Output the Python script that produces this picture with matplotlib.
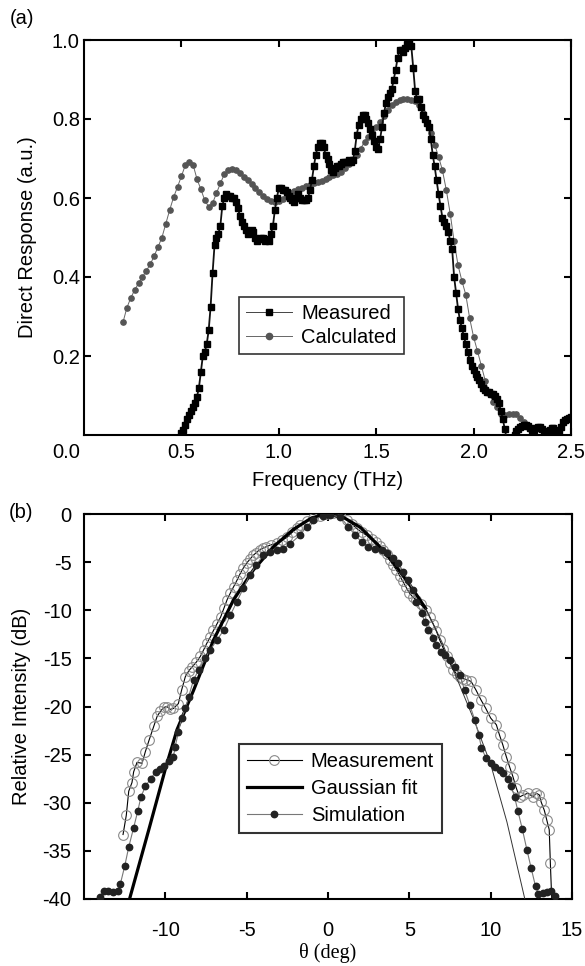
import numpy as np
import matplotlib
matplotlib.use("Agg")
import matplotlib.pyplot as plt
from matplotlib.lines import Line2D

plt.rcParams['font.family'] = ['Liberation Sans', 'DejaVu Sans']

# ---------------- Panel (a) data ----------------
meas_freq = np.round(np.arange(0.50, 2.505, 0.01), 2)
meas_resp = [
    0.005, 0.012, 0.025, 0.04, 0.05, 0.06, 0.07, 0.08, 0.097, 0.12,
    0.16, 0.20, 0.21, 0.23, 0.265, 0.325, 0.41, 0.48, 0.50, 0.51,
    0.53, 0.58, 0.60, 0.61, 0.605, 0.605, 0.60, 0.60, 0.59, 0.575,
    0.555, 0.54, 0.53, 0.52, 0.51, 0.515, 0.52, 0.515, 0.50, 0.49,
    0.495, 0.50, 0.50, 0.49, 0.495, 0.49, 0.51, 0.53, 0.57, 0.60,
    0.625, 0.625, 0.62, 0.62, 0.615, 0.605, 0.60, 0.595, 0.59, 0.60,
    0.61, 0.60, 0.595, 0.595, 0.595, 0.60, 0.62, 0.645, 0.68, 0.71,
    0.73, 0.74, 0.74, 0.73, 0.71, 0.70, 0.685, 0.67, 0.665, 0.675,
    0.68, 0.68, 0.685, 0.69, 0.69, 0.69, 0.695, 0.69, 0.695, 0.72,
    0.76, 0.785, 0.80, 0.81, 0.81, 0.80, 0.79, 0.775, 0.76, 0.745,
    0.73, 0.725, 0.75, 0.78, 0.815, 0.84, 0.855, 0.865, 0.875, 0.90,
    0.925, 0.955, 0.975, 0.975, 0.97, 0.98, 0.99, 1.0, 0.985, 0.93,
    0.87, 0.85, 0.85, 0.83, 0.81, 0.80, 0.79, 0.78, 0.75, 0.71,
    0.68, 0.645, 0.61, 0.58, 0.55, 0.54, 0.53, 0.515, 0.49, 0.47,
    0.40, 0.36, 0.32, 0.29, 0.27, 0.25, 0.23, 0.21, 0.19, 0.175,
    0.165, 0.155, 0.147, 0.14, 0.13, 0.12, 0.115, 0.11, 0.108, 0.105,
    0.105, 0.10, 0.09, 0.08, 0.06, 0.04, 0.015, -0.01, -0.03, -0.03,
    -0.02, 0.0, 0.01, 0.015, 0.02, 0.022, 0.025, 0.025, 0.022, 0.018,
    0.012, 0.012, 0.018, 0.02, 0.02, 0.015, 0.01, 0.008, 0.008, 0.012,
    0.018, 0.018, 0.012, 0.008, 0.01, 0.02, 0.033, 0.038, 0.04, 0.043,
    0.045,
]

calc_freq = np.round(np.arange(0.20, 2.305, 0.02), 2)
calc_resp = [
    0.285, 0.322, 0.347, 0.367, 0.384, 0.400, 0.416, 0.432, 0.453, 0.476,
    0.500, 0.535, 0.570, 0.602, 0.628, 0.655, 0.683, 0.692, 0.684, 0.648,
    0.622, 0.594, 0.578, 0.587, 0.612, 0.637, 0.660, 0.671, 0.673, 0.670,
    0.663, 0.654, 0.645, 0.635, 0.625, 0.615, 0.606, 0.598, 0.592, 0.590,
    0.592, 0.598, 0.605, 0.612, 0.618, 0.622, 0.626, 0.630, 0.634, 0.638,
    0.641, 0.644, 0.648, 0.652, 0.657, 0.662, 0.667, 0.675, 0.685, 0.697,
    0.710, 0.725, 0.742, 0.755, 0.768, 0.780, 0.792, 0.808, 0.822, 0.835,
    0.843, 0.848, 0.850, 0.851, 0.849, 0.845, 0.835, 0.815, 0.790, 0.765,
    0.735, 0.705, 0.670, 0.620, 0.560, 0.490, 0.430, 0.390, 0.355, 0.295,
    0.248, 0.212, 0.175, 0.137, 0.107, 0.084, 0.070, 0.054, 0.050, 0.052,
    0.054, 0.053, 0.044, 0.032, 0.020, 0.004,
]

# ---------------- Panel (b) data ----------------
meas_theta = [
    -12.6, -12.4, -12.25, -12.05, -11.95, -11.74, -11.43, -11.23, -11.0, -10.7,
    -10.5, -10.3, -10.1, -9.9, -9.7, -9.5, -9.2, -9.0, -8.77, -8.56,
    -8.36, -8.1, -7.85, -7.64, -7.44, -7.24, -7.04, -6.82, -6.6, -6.4,
    -6.2, -6.0, -5.8, -5.6, -5.4, -5.2, -5.0, -4.8, -4.6, -4.4,
    -4.2, -4.0, -3.8, -3.5, -3.15, -2.8, -2.5, -2.2, -1.9, -1.7,
    -1.3, -0.9, -0.5, -0.1, 0.3, 0.74, 1.15, 1.45, 1.76, 2.07,
    2.37, 2.68, 2.98, 3.2, 3.4, 3.6, 3.8, 4.0, 4.2, 4.4,
    4.6, 4.8, 5.0, 5.2, 5.4, 5.7, 6.05, 6.25, 6.46, 6.67,
    6.87, 7.1, 7.3, 7.5, 7.7, 7.9, 8.1, 8.3, 8.5, 8.8,
    9.1, 9.4, 9.7, 10.0, 10.35, 10.55, 10.75, 10.96, 11.17, 11.37,
    11.58, 11.78, 12.0, 12.3, 12.6, 12.8, 13.0, 13.1, 13.3, 13.45,
    13.6, 13.67, 13.8,
]
meas_db = [
    -33.3, -31.3, -28.8, -27.9, -26.8, -25.8, -25.9, -24.7, -23.5, -22.0,
    -21.0, -20.5, -20.1, -20.0, -20.3, -20.2, -19.7, -18.3, -16.9, -16.3,
    -15.9, -15.4, -14.8, -14.1, -13.4, -12.8, -12.1, -11.4, -10.7, -9.8,
    -8.9, -8.2, -7.55, -6.9, -6.2, -5.6, -5.1, -4.7, -4.3, -4.0,
    -3.7, -3.55, -3.4, -3.2, -3.05, -2.7, -2.4, -1.9, -1.5, -1.1,
    -0.75, -0.45, -0.2, 0.0, 0.1, 0.1, -0.6, -1.0, -1.5, -1.9,
    -2.2, -2.6, -2.9, -3.3, -3.7, -4.2, -4.8, -5.3, -5.8, -6.4,
    -7.0, -7.6, -8.2, -8.6, -8.9, -9.4, -10.0, -10.7, -11.4, -12.2,
    -13.1, -14.0, -14.8, -15.5, -16.2, -16.6, -16.9, -17.1, -17.2, -17.4,
    -18.3, -19.3, -20.2, -21.2, -21.9, -23.0, -24.0, -25.2, -26.3, -27.3,
    -28.5, -29.4, -29.2, -29.0, -29.4, -29.0, -29.2, -29.9, -30.8, -31.8,
    -32.8, -36.3, -42.0,
]

gauss_theta = [-12.2, -11.0, -10.0, -9.28, -8.26, -7.04, -5.8, -4.58, -3.35, -2.13,
               -1.0, 0.0, 1.0, 2.0, 3.0, 4.0, 5.0, 6.0, 7.0, 8.0,
               9.0, 10.0, 11.0, 12.1]
gauss_db = [-40.0, -32.7, -26.5, -22.4, -18.3, -13.1, -8.9, -5.8, -3.4, -1.6,
            -0.4, 0.0, -0.4, -1.4, -3.1, -5.0, -7.3, -9.8, -13.3, -17.4,
            -21.5, -26.0, -32.0, -40.0]

sim_theta = [
    -14.0, -13.8, -13.5, -13.2, -12.9, -12.76, -12.5, -12.25, -11.95, -11.7,
    -11.5, -11.23, -10.9, -10.6, -10.35, -10.1, -9.8, -9.5, -9.4, -9.2,
    -9.0, -8.77, -8.57, -8.26, -7.95, -7.55, -7.24, -6.83, -6.42, -6.0,
    -5.6, -5.2, -4.8, -4.4, -4.0, -3.56, -3.15, -2.74, -2.33, -1.72,
    -1.31, -0.9, -0.29, 0.12, 0.74, 1.25, 1.66, 2.07, 2.48, 2.89,
    3.3, 3.6, 4.0, 4.32, 4.62, 4.93, 5.24, 5.44, 5.75, 5.95,
    6.16, 6.46, 6.67, 6.97, 7.18, 7.48, 7.79, 8.1, 8.4, 8.71,
    9.02, 9.28, 9.43, 9.73, 10.04, 10.25, 10.55, 10.76, 11.07, 11.27,
    11.47, 11.68, 11.94, 12.23, 12.49, 12.76, 12.94, 13.2, 13.45, 13.72,
    13.93,
]
sim_db = [
    -39.8, -39.2, -39.2, -39.3, -39.2, -38.4, -36.6, -34.6, -32.6, -30.9,
    -29.4, -28.3, -27.5, -26.8, -26.5, -26.2, -25.7, -25.2, -24.2, -22.7,
    -21.2, -20.2, -19.0, -17.2, -16.2, -15.0, -14.1, -13.1, -12.1, -10.5,
    -9.1, -7.7, -6.3, -5.3, -4.3, -3.9, -3.7, -3.6, -3.1, -2.2,
    -1.3, -0.6, -0.2, -0.1, -0.3, -1.3, -2.2, -2.9, -3.4, -3.6,
    -3.7, -4.1, -4.6, -5.1, -6.0, -6.9, -7.9, -9.1, -10.3, -11.2,
    -12.0, -12.9, -13.6, -14.3, -14.6, -15.2, -15.9, -16.7, -18.3, -19.8,
    -21.4, -23.0, -24.3, -25.4, -25.9, -26.3, -26.6, -26.9, -27.5, -28.3,
    -29.4, -30.9, -32.7, -34.9, -36.8, -38.7, -39.5, -39.4, -39.3, -39.2,
    -39.7,
]

freq_ticks = [0.5, 1.0, 1.5, 2.0, 2.5]
resp_ticks = [0.2, 0.4, 0.6, 0.8, 1.0]
theta_ticks = [-10, -5, 0, 5, 10, 15]
db_ticks = [0, -5, -10, -15, -20, -25, -30, -35, -40]

FS = 14.5
W, H = 585, 966
fig = plt.figure(figsize=(W / 100, H / 100), dpi=100)


def style_axes(ax):
    for s in ax.spines.values():
        s.set_linewidth(1.5)
    ax.tick_params(direction='in', length=5, width=1.5, top=True, right=True,
                   labelsize=FS)


# ---------------- Panel (a) ----------------
ax1 = fig.add_axes([84 / W, 1 - 435 / H, (571 - 84) / W, (435 - 40) / H])
ax1.plot(meas_freq, meas_resp, color='#111111', lw=1.3, marker='s', ms=4.0,
         mfc='black', mec='black', zorder=3)
ax1.plot(calc_freq, calc_resp, color='#666666', lw=0.7, marker='o', ms=3.8,
         mfc='#555555', mec='#555555', zorder=2)
ax1.set_xlim(0, 2.5)
ax1.set_ylim(0, 1.0)
ax1.set_xticks(freq_ticks)
ax1.set_xticklabels(['0.5', '1.0', '1.5', '2.0', '2.5'])
ax1.set_yticks(resp_ticks)
ax1.set_yticklabels(['0.2', '0.4', '0.6', '0.8', '1.0'])
style_axes(ax1)
ax1.tick_params(axis='y', pad=3)
ax1.tick_params(axis='x', pad=6)
ax1.set_xlabel('Frequency (THz)', fontsize=FS, labelpad=6)
ax1.set_ylabel('Direct Response (a.u.)', fontsize=FS, labelpad=11)
fig.text(80 / W, 1 - 443 / H, '0.0', ha='right', va='top', fontsize=FS)
ha1 = Line2D([], [], color='#444444', lw=0.7, marker='s', ms=4.5,
             mfc='black', mec='black')
ha2 = Line2D([], [], color='#666666', lw=0.7, marker='o', ms=4.5,
             mfc='#555555', mec='#555555')
leg1 = ax1.legend([ha1, ha2], ['Measured', 'Calculated'],
                  loc='upper left', bbox_to_anchor=(0.318, 0.349), fontsize=FS,
                  frameon=True, fancybox=False, handlelength=2.3,
                  handletextpad=0.45, labelspacing=0.25, borderpad=0.35,
                  borderaxespad=0.0)
leg1.get_frame().set_edgecolor('black')
leg1.get_frame().set_linewidth(1.2)
fig.text(22 / W, 1 - 18 / H, '(a)', ha='center', va='center', fontsize=FS)

# ---------------- Panel (b) ----------------
ax2 = fig.add_axes([84 / W, 1 - 899 / H, (572 - 84) / W, (899 - 514) / H])
ax2.plot(meas_theta, meas_db, color='black', lw=0.8, marker='o', ms=7,
         mfc='none', mec='#8a8a8a', mew=0.8, zorder=3)
g_theta = np.array(gauss_theta)
g_db = np.array(gauss_db)
left = g_theta <= 6.0
right = g_theta >= 6.0
ax2.plot(g_theta[left], g_db[left], color='black', lw=2.3, zorder=4)
ax2.plot(g_theta[right], g_db[right], color='#333333', lw=0.7, zorder=4)
ax2.plot(sim_theta, sim_db, color='#777777', lw=0.8, marker='o', ms=4.6,
         mfc='#222222', mec='#222222', zorder=5)
ax2.set_xlim(-15, 15)
ax2.set_ylim(-40, 0)
ax2.set_xticks(theta_ticks)
ax2.set_xticklabels([str(t) for t in theta_ticks])
ax2.set_yticks(db_ticks)
ax2.set_yticklabels([str(t) for t in db_ticks])
style_axes(ax2)
ax2.tick_params(axis='y', pad=9)
ax2.tick_params(axis='x', pad=16)
ax2.set_xlabel('\u03b8 (deg)', fontsize=FS, family=['Liberation Serif', 'DejaVu Serif'],
               labelpad=2)
ax2.set_ylabel('Relative Intensity (dB)', fontsize=FS, labelpad=8)
h1 = Line2D([], [], color='black', lw=0.8, marker='o', ms=7, mfc='none',
            mec='#8a8a8a', mew=0.8)
h2 = Line2D([], [], color='black', lw=2.3)
h3 = Line2D([], [], color='#777777', lw=0.8, marker='o', ms=4.6,
            mfc='#222222', mec='#222222')
leg2 = ax2.legend([h1, h2, h3], ['Measurement', 'Gaussian fit', 'Simulation'],
                  loc='upper left', bbox_to_anchor=(0.318, 0.403), fontsize=FS,
                  frameon=True, fancybox=False, handlelength=2.7,
                  handletextpad=0.45, labelspacing=0.4, borderpad=0.4,
                  borderaxespad=0.0)
leg2.get_frame().set_edgecolor('black')
leg2.get_frame().set_linewidth(1.5)
fig.text(21 / W, 1 - 513 / H, '(b)', ha='center', va='center', fontsize=FS)

fig.savefig('out.png', dpi=100)
